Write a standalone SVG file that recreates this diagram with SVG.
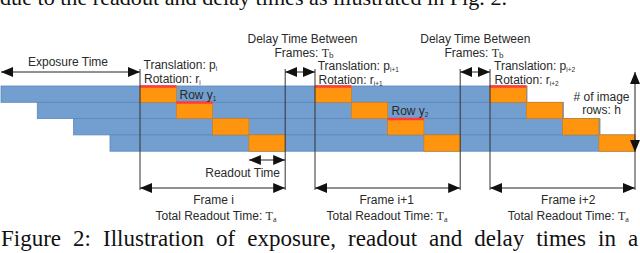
<svg xmlns="http://www.w3.org/2000/svg" width="640" height="253" viewBox="0 0 640 253">
<style>
.lbl{font-family:"Liberation Sans",Arial,sans-serif;font-size:12px;fill:#2a2a2a}
.sub{font-size:6.5px}
.ser{font-family:"Liberation Serif","Times New Roman",serif}
.cap{font-family:"Liberation Serif","Times New Roman",serif;fill:#111}
.row{fill:#729fcf;stroke:#5b87bd;stroke-width:0.8}
.org{fill:#ff950e;stroke:#d07a10;stroke-width:0.6}
.red{stroke:#ff3b3b;stroke-width:2.5}
.ln{stroke:#333;stroke-width:1;fill:none}
.arr{stroke:#222;stroke-width:1;fill:none;marker-start:url(#ah);marker-end:url(#ah)}
</style>
<defs>
<marker id="ah" markerUnits="userSpaceOnUse" markerWidth="12" markerHeight="10" refX="12" refY="5" orient="auto-start-reverse">
<path d="M0,0 L12,5 L0,10 z" fill="#111"/>
</marker>
</defs>
<rect width="640" height="253" fill="#fff"/>
<text class="cap" x="0" y="4.5" font-size="22" textLength="507" lengthAdjust="spacingAndGlyphs">due to the readout and delay times as illustrated in Fig. 2.</text>

<g id="rows">
<rect class="row" x="1" y="86" width="526" height="16.3"/>
<rect class="row" x="37.3" y="102.3" width="526" height="16.3"/>
<rect class="row" x="73.6" y="118.6" width="526.4" height="16.3"/>
<rect class="row" x="110" y="134.9" width="525" height="16.3"/>
</g>
<g id="readout-blocks">
<rect class="org" x="140" y="86" width="36.3" height="16.3"/>
<rect class="org" x="176.3" y="102.3" width="36.3" height="16.3"/>
<rect class="org" x="212.6" y="118.6" width="36.3" height="16.3"/>
<rect class="org" x="248.9" y="134.9" width="36.3" height="16.3"/>
<rect class="org" x="315" y="86" width="36.3" height="16.3"/>
<rect class="org" x="351.3" y="102.3" width="36.3" height="16.3"/>
<rect class="org" x="387.6" y="118.6" width="36.3" height="16.3"/>
<rect class="org" x="423.9" y="134.9" width="36.3" height="16.3"/>
<rect class="org" x="490" y="86" width="36.3" height="16.3"/>
<rect class="org" x="526.3" y="102.3" width="36.3" height="16.3"/>
<rect class="org" x="562.6" y="118.6" width="36.3" height="16.3"/>
<rect class="org" x="598.9" y="134.9" width="36.1" height="16.3"/>
</g>
<g id="highlights">
<line class="red" x1="140" y1="86.5" x2="176.3" y2="86.5"/>
<line class="red" x1="315" y1="86.5" x2="351.3" y2="86.5"/>
<line class="red" x1="490" y1="86.5" x2="526.3" y2="86.5"/>
<line class="red" x1="176.3" y1="102.6" x2="212.6" y2="102.6"/>
<line class="red" x1="387.6" y1="118.9" x2="423.9" y2="118.9"/>
</g>

<g id="connectors">
<line class="ln" x1="140" y1="69" x2="140" y2="190"/>
<line class="ln" x1="285.2" y1="69" x2="285.2" y2="190"/>
<line class="ln" x1="315" y1="69" x2="315" y2="190"/>
<line class="ln" x1="460.2" y1="69" x2="460.2" y2="190"/>
<line class="ln" x1="490" y1="69" x2="490" y2="190"/>
<line class="ln" x1="635" y1="152" x2="635" y2="190"/>
<line class="arr" x1="1" y1="72" x2="140" y2="72"/>
<line class="arr" x1="285.2" y1="72" x2="315" y2="72"/>
<line class="arr" x1="460.2" y1="72" x2="490" y2="72"/>
<line class="arr" x1="248.9" y1="160" x2="285.2" y2="160"/>
<line class="arr" x1="140" y1="188" x2="285.2" y2="188"/>
<line class="arr" x1="315" y1="188" x2="460.2" y2="188"/>
<line class="arr" x1="490" y1="188" x2="635" y2="188"/>
<line class="arr" x1="635" y1="72" x2="635" y2="152"/>
</g>

<g id="labels">
<text class="lbl" x="68" y="66" text-anchor="middle">Exposure Time</text>
<text class="lbl" x="302.5" y="43" text-anchor="middle">Delay Time Between</text>
<text class="lbl" x="304" y="56.7" text-anchor="middle">Frames: <tspan class="ser">T<tspan font-size="9" dy="1.5">b</tspan></tspan></text>
<text class="lbl" x="475.3" y="43" text-anchor="middle">Delay Time Between</text>
<text class="lbl" x="474" y="56.7" text-anchor="middle">Frames: <tspan class="ser">T<tspan font-size="9" dy="1.5">b</tspan></tspan></text>

<text class="lbl" x="143.5" y="69">Translation: p<tspan class="sub" dy="2">i</tspan></text>
<text class="lbl" x="144" y="82.7">Rotation: r<tspan class="sub" dy="2">i</tspan></text>
<text class="lbl" x="317.7" y="70.3">Translation: p<tspan class="sub" dy="2">i+1</tspan></text>
<text class="lbl" x="318.5" y="83.6">Rotation: r<tspan class="sub" dy="2">i+1</tspan></text>
<text class="lbl" x="494" y="70.3">Translation: p<tspan class="sub" dy="2">i+2</tspan></text>
<text class="lbl" x="494.5" y="83.6">Rotation: r<tspan class="sub" dy="2">i+2</tspan></text>

<text class="lbl" x="179.5" y="99">Row y<tspan class="sub" dy="2">1</tspan></text>
<text class="lbl" x="391.5" y="114.5">Row y<tspan class="sub" dy="2">2</tspan></text>

<text class="lbl" x="601.5" y="101" text-anchor="middle"># of image</text>
<text class="lbl" x="601.5" y="114" text-anchor="middle">rows: h</text>

<text class="lbl" x="280" y="176.7" text-anchor="end">Readout Time</text>

<text class="lbl" x="213.5" y="204.3" text-anchor="middle">Frame i</text>
<text class="lbl" x="216" y="220" text-anchor="middle">Total Readout Time: <tspan class="ser">T<tspan font-size="8" dy="1.5">a</tspan></tspan></text>
<text class="lbl" x="386.7" y="204.3" text-anchor="middle">Frame i+1</text>
<text class="lbl" x="387" y="220" text-anchor="middle">Total Readout Time: <tspan class="ser">T<tspan font-size="8" dy="1.5">a</tspan></tspan></text>
<text class="lbl" x="568.3" y="204.3" text-anchor="middle">Frame i+2</text>
<text class="lbl" x="568.3" y="220" text-anchor="middle">Total Readout Time: <tspan class="ser">T<tspan font-size="8" dy="1.5">a</tspan></tspan></text>
</g>

<text class="cap" x="1" y="246" font-size="23" word-spacing="6.3">Figure 2: Illustration of exposure, readout and delay times in a</text>
</svg>
